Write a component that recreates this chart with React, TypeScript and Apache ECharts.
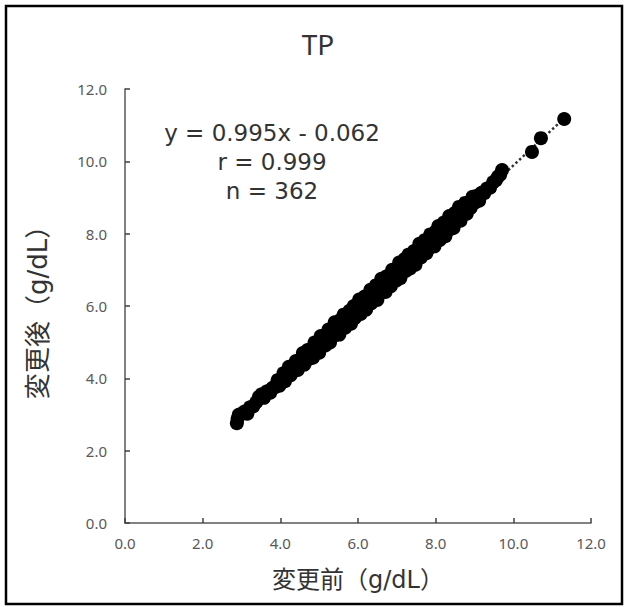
import React, { useEffect, useRef } from "react";
import * as echarts from "echarts";

const titleText = "TP";
const xAxisName = "変更前（g/dL）";
const yAxisName = "変更後（g/dL）";
const annotationLines = ["y = 0.995x - 0.062", "r = 0.999", "n = 362"];
const axisTicks = [0, 2, 4, 6, 8, 10, 12];

const beforeValues = [
  2.88, 2.9, 2.93, 3.0, 3.08, 3.15, 3.22, 3.3, 3.38, 3.45, 3.52, 3.58, 3.66, 3.74, 3.8, 3.88, 3.93, 3.98,
  4.03, 4.08, 4.12, 4.18, 4.22, 4.27, 4.31, 4.36, 4.4, 4.45, 4.5, 4.55, 4.58, 4.62, 4.67, 4.7, 4.75, 4.8,
  4.84, 4.88, 4.92, 4.96, 5.0, 5.04, 5.08, 5.12, 5.16, 5.2, 5.24, 5.28, 5.32, 5.36, 5.4, 5.44, 5.48, 5.52,
  5.55, 5.59, 5.63, 5.67, 5.7, 5.74, 5.78, 5.82, 5.85, 5.89, 5.92, 5.96, 6.0, 6.03, 6.07, 6.1, 6.14, 6.17,
  6.21, 6.25, 6.28, 6.32, 6.35, 6.39, 6.42, 6.46, 6.5, 6.53, 6.57, 6.6, 6.64, 6.67, 6.71, 6.74, 6.78, 6.81,
  6.85, 6.88, 6.92, 6.95, 6.99, 7.02, 7.06, 7.09, 7.13, 7.16, 7.2, 7.23, 7.27, 7.3, 7.34, 7.37, 7.41, 7.44,
  7.48, 7.51, 7.55, 7.58, 7.62, 7.65, 7.69, 7.72, 7.76, 7.79, 7.83, 7.86, 7.9, 7.93, 7.97, 8.0, 8.04, 8.07,
  8.11, 8.14, 8.18, 8.21, 8.25, 8.28, 8.32, 8.35, 8.39, 8.42, 8.46, 8.49, 8.53, 8.56, 8.6, 8.64, 8.68, 8.72,
  8.76, 8.8, 8.85, 8.9, 8.95, 9.0, 9.06, 9.12, 9.18, 9.25, 9.32, 9.4, 9.48, 9.55, 9.6, 9.66, 9.71,
  10.48, 10.71, 11.31,
];

const afterValues = [
  2.76, 2.88, 2.99, 3.02, 3.08, 3.02, 3.2, 3.22, 3.34, 3.49, 3.56, 3.46, 3.64, 3.6, 3.74, 3.76, 3.95, 3.8,
  3.97, 4.14, 3.92, 4.16, 4.32, 4.09, 4.33, 4.24, 4.48, 4.23, 4.5, 4.39, 4.7, 4.38, 4.62, 4.78, 4.54, 4.81,
  4.57, 4.99, 4.75, 4.99, 4.71, 5.17, 4.93, 5.17, 4.91, 5.17, 5.35, 4.99, 5.33, 5.17, 5.55, 5.21, 5.43, 5.21,
  5.62, 5.44, 5.76, 5.4, 5.69, 5.55, 5.87, 5.51, 5.78, 6.0, 5.67, 5.97, 5.83, 6.18, 5.78, 6.07, 5.93, 6.26,
  5.9, 6.28, 6.15, 6.45, 6.08, 6.38, 6.23, 6.57, 6.17, 6.58, 6.42, 6.75, 6.39, 6.62, 6.39, 6.82, 6.58, 6.81,
  6.55, 7.0, 6.76, 6.99, 6.71, 6.98, 7.2, 6.77, 7.13, 6.94, 7.3, 6.97, 7.21, 7.42, 7.04, 7.39, 7.23, 7.52,
  7.14, 7.49, 7.33, 7.72, 7.34, 7.57, 7.53, 7.82, 7.46, 7.79, 7.59, 7.98, 7.7, 7.89, 7.65, 8.06, 7.86, 8.21,
  7.83, 8.12, 7.96, 8.31, 7.93, 8.3, 8.18, 8.49, 8.13, 8.38, 8.16, 8.57, 8.33, 8.6, 8.74, 8.36, 8.66, 8.55,
  8.85, 8.55, 8.86, 8.71, 9.02, 8.85, 9.05, 8.91, 9.13, 9.12, 9.25, 9.27, 9.42, 9.48, 9.57, 9.63, 9.76,
  10.26, 10.64, 11.17,
];

const trendBefore = [2.88, 11.31];
const trendAfter = [2.8, 11.19];

const FONT = "'Noto Sans', 'Noto Sans CJK JP', sans-serif";
const WIDE = "'DejaVu Sans', 'Noto Sans CJK JP', sans-serif";

export default function App() {
  const ref = useRef<HTMLDivElement>(null);

  useEffect(() => {
    if (!ref.current) return;
    const chart = echarts.init(ref.current, undefined, { renderer: "svg" });
    const points = beforeValues.map((x, i) => [x, afterValues[i]]);
    const trend = trendBefore.map((x, i) => [x, trendAfter[i]]);

    chart.setOption({
      animation: false,
      backgroundColor: "#ffffff",
      title: {
        text: titleText,
        left: 313,
        top: 25,
        textAlign: "center",
        textStyle: { fontFamily: FONT, fontSize: 28, fontWeight: "normal", color: "#333333" },
      },
      grid: { left: 125, right: 36, top: 89, bottom: 84, containLabel: false },
      xAxis: {
        type: "value",
        min: axisTicks[0],
        max: axisTicks[axisTicks.length - 1],
        interval: 2,
        name: xAxisName,
        nameLocation: "middle",
        nameGap: 45,
        nameTextStyle: { fontFamily: WIDE, fontSize: 24, color: "#333333" },
        axisLine: { show: true, lineStyle: { color: "#595959", width: 1.5 } },
        axisTick: { show: true, inside: true, length: 5, lineStyle: { color: "#404040", width: 1.5 } },
        axisLabel: {
          margin: 12,
          fontFamily: FONT,
          fontSize: 15,
          color: "#595959",
          formatter: (v: number) => v.toFixed(1),
        },
        splitLine: { show: false },
      },
      yAxis: {
        type: "value",
        min: axisTicks[0],
        max: axisTicks[axisTicks.length - 1],
        interval: 2,
        name: yAxisName,
        nameLocation: "middle",
        nameGap: 74,
        nameRotate: 90,
        nameTextStyle: { fontFamily: WIDE, fontSize: 26, color: "#333333" },
        axisLine: { show: true, lineStyle: { color: "#595959", width: 1.5 } },
        axisTick: { show: true, inside: true, length: 5, lineStyle: { color: "#404040", width: 1.5 } },
        axisLabel: {
          margin: 18,
          fontFamily: FONT,
          fontSize: 15,
          color: "#595959",
          formatter: (v: number) => v.toFixed(1),
        },
        splitLine: { show: false },
      },
      series: [
        {
          type: "line",
          data: trend,
          showSymbol: false,
          symbol: "none",
          lineStyle: { type: "dotted", color: "#333333", width: 2.5 },
          z: 1,
          silent: true,
        },
        {
          type: "scatter",
          data: points,
          symbol: "circle",
          symbolSize: 14,
          itemStyle: { color: "#000000", opacity: 1 },
          z: 2,
        },
      ],
      graphic: [
        {
          type: "rect",
          shape: { x: 6, y: 6, width: 616, height: 598 },
          style: { fill: "none", stroke: "#000000", lineWidth: 2.5 },
          silent: true,
        },
        ...annotationLines.map((t, i) => ({
          type: "text",
          x: 272,
          y: 133 + i * 29,
          style: {
            text: t,
            fontFamily: WIDE,
            fontSize: 23,
            fill: "#333333",
            textAlign: "center",
            textVerticalAlign: "middle",
          },
        })),
      ],
    });

    return () => chart.dispose();
  }, []);

  return (
    <div
      ref={ref}
      style={{ position: "fixed", left: 0, top: 0, width: 627, height: 607, background: "#fff" }}
    />
  );
}
